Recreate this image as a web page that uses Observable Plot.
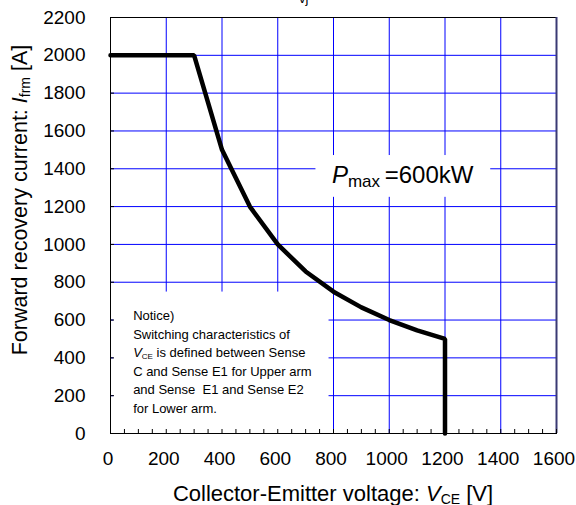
<!DOCTYPE html>
<html>
<head>
<meta charset="utf-8">
<script src="https://cdn.jsdelivr.net/npm/d3@7"></script>
<script src="https://cdn.jsdelivr.net/npm/@observablehq/plot@0.6"></script>
<style>
  html, body { margin: 0; padding: 0; background: #fff; }
  #chart { width: 576px; height: 505px; overflow: hidden; }
  #chart svg { overflow: hidden; }
</style>
</head>
<body>
<div id="chart"></div>
<script>
// Reverse bias safe operating area of the free-wheeling diode
const voltage = [0, 300, 400, 500, 600, 700, 800, 900, 1000, 1100, 1200, 1200];   // V_CE [V]
const current = [2000, 2000, 1500, 1200, 1000, 857, 750, 667, 600, 545, 500, 0];   // I_frm [A]

const xTicks = [0, 200, 400, 600, 800, 1000, 1200, 1400, 1600];
const xMinorTicks = [0, 50, 100, 150, 200, 250, 300, 350, 400, 450, 500, 550, 600, 650, 700, 750,
  800, 850, 900, 950, 1000, 1050, 1100, 1150, 1200, 1250, 1300, 1350, 1400, 1450, 1500, 1550, 1600];
const yTicks = [0, 200, 400, 600, 800, 1000, 1200, 1400, 1600, 1800, 2000, 2200];

// Note text, one entry per line; each line is a list of [text, style] runs
const noticeLines = [
  [["Notice)", ""]],
  [["Switching characteristics of", ""]],
  [["V", "i"], ["CE", "sub"], [" is defined between Sense", ""]],
  [["C and Sense E1 for Upper arm", ""]],
  [["and Sense  E1 and Sense E2", ""]],
  [["for Lower arm.", ""]]
];

// White panels behind the annotations (data units)
const panels = [
  {x1: 12, x2: 784, y1: 0, y2: 748},
  {x1: 737, x2: 1364, y1: 1249, y2: 1470}
];
const noticeAnchor = {x: 83, y: 597};
const powerAnchor = {x: 796, y: 1321};

const points = voltage.map((v, i) => ({v, i: current[i]}));
const font = "'Liberation Sans', Arial, Helvetica, sans-serif";
const plain = d => String(d);

const svg = Plot.plot({
  width: 576,
  height: 505,
  marginTop: 17,
  marginRight: 20,
  marginBottom: 72,
  marginLeft: 110,
  style: {fontFamily: font, fontSize: "19px", background: "#fff", color: "#000"},
  x: {domain: [0, 1600]},
  y: {domain: [0, 2200]},
  marks: [
    Plot.gridX(xTicks.filter(d => d > 0 && d < 1600), {stroke: "#0000ff", strokeOpacity: 1, strokeWidth: 1}),
    Plot.gridY(yTicks.filter(d => d > 0 && d < 2200), {stroke: "#0000ff", strokeOpacity: 1, strokeWidth: 1}),
    Plot.rect(panels, {x1: "x1", x2: "x2", y1: "y1", y2: "y2", fill: "#fff"}),
    Plot.frame({stroke: "#000"}),
    Plot.ruleX([1600], {stroke: "#3a3a74", strokeWidth: 2}),
    Plot.axisX(xMinorTicks, {tickSize: 4, dy: -4, tickFormat: () => "", label: null}),
    Plot.axisX(xTicks, {tickSize: 0, tickPadding: 18, dx: -2.5, tickFormat: plain, label: null, fontSize: 19}),
    Plot.axisY(yTicks, {tickSize: 4, dx: 4, tickFormat: () => "", label: null}),
    Plot.axisY(yTicks, {tickSize: 0, tickPadding: 25, tickFormat: plain, label: null, fontSize: 19}),
    Plot.line(points, {x: "v", y: "i", stroke: "#000", strokeWidth: 4.5, strokeLinejoin: "miter"})
  ]
});

document.getElementById("chart").appendChild(svg);

const sx = svg.scale("x"), sy = svg.scale("y");
const root = d3.select(svg);
const g = root.append("g")
  .attr("font-family", font).attr("fill", "#000").attr("text-anchor", "start");

// Temperature condition, running off the top edge
const cond = g.append("text").attr("x", 336).attr("y", -0.5)
  .attr("text-anchor", "middle").attr("font-size", 18);
cond.append("tspan").text("T");
cond.append("tspan").attr("font-size", 13).attr("dy", 3.5).text("vj");
cond.append("tspan").attr("dy", -3.5).text(" = 175 °C");

// X axis title
const xt = g.append("text")
  .attr("x", (sx.apply(0) + sx.apply(1600)) / 2).attr("y", 501)
  .attr("text-anchor", "middle").attr("font-size", 22);
xt.append("tspan").text("Collector-Emitter voltage: ");
xt.append("tspan").attr("font-style", "italic").text("V");
xt.append("tspan").attr("font-size", 14).attr("dy", 3).text("CE");
xt.append("tspan").attr("dy", -3).text(" [V]");

// Y axis title
const yt = g.append("text")
  .attr("transform", "translate(27,200) rotate(-90)")
  .attr("text-anchor", "middle").attr("font-size", 21.5);
yt.append("tspan").text("Forward recovery current: ");
yt.append("tspan").attr("font-style", "italic").text("I");
yt.append("tspan").attr("font-size", 14).attr("dy", 3).text("frm");
yt.append("tspan").attr("dy", -3).text(" [A]");

// Power limit label
const pl = g.append("text")
  .attr("x", sx.apply(powerAnchor.x)).attr("y", sy.apply(powerAnchor.y))
  .attr("font-size", 24);
pl.append("tspan").attr("font-style", "italic").text("P");
pl.append("tspan").attr("font-size", 17).attr("dy", 4).text("max ");
pl.append("tspan").attr("dy", -4).text("=600kW");

// Notice block
const nx = sx.apply(noticeAnchor.x), ny = sy.apply(noticeAnchor.y);
noticeLines.forEach((runs, k) => {
  const t = g.append("text").attr("x", nx).attr("y", ny + k * 18.5).attr("font-size", 13);
  let shift = 0;
  runs.forEach(([s, style]) => {
    const ts = t.append("tspan").text(s);
    if (style === "i") ts.attr("font-style", "italic");
    if (style === "sub") { ts.attr("font-size", 8).attr("dy", 2); shift = 2; }
    else if (shift) { ts.attr("dy", -shift); shift = 0; }
  });
});
</script>
</body>
</html>
